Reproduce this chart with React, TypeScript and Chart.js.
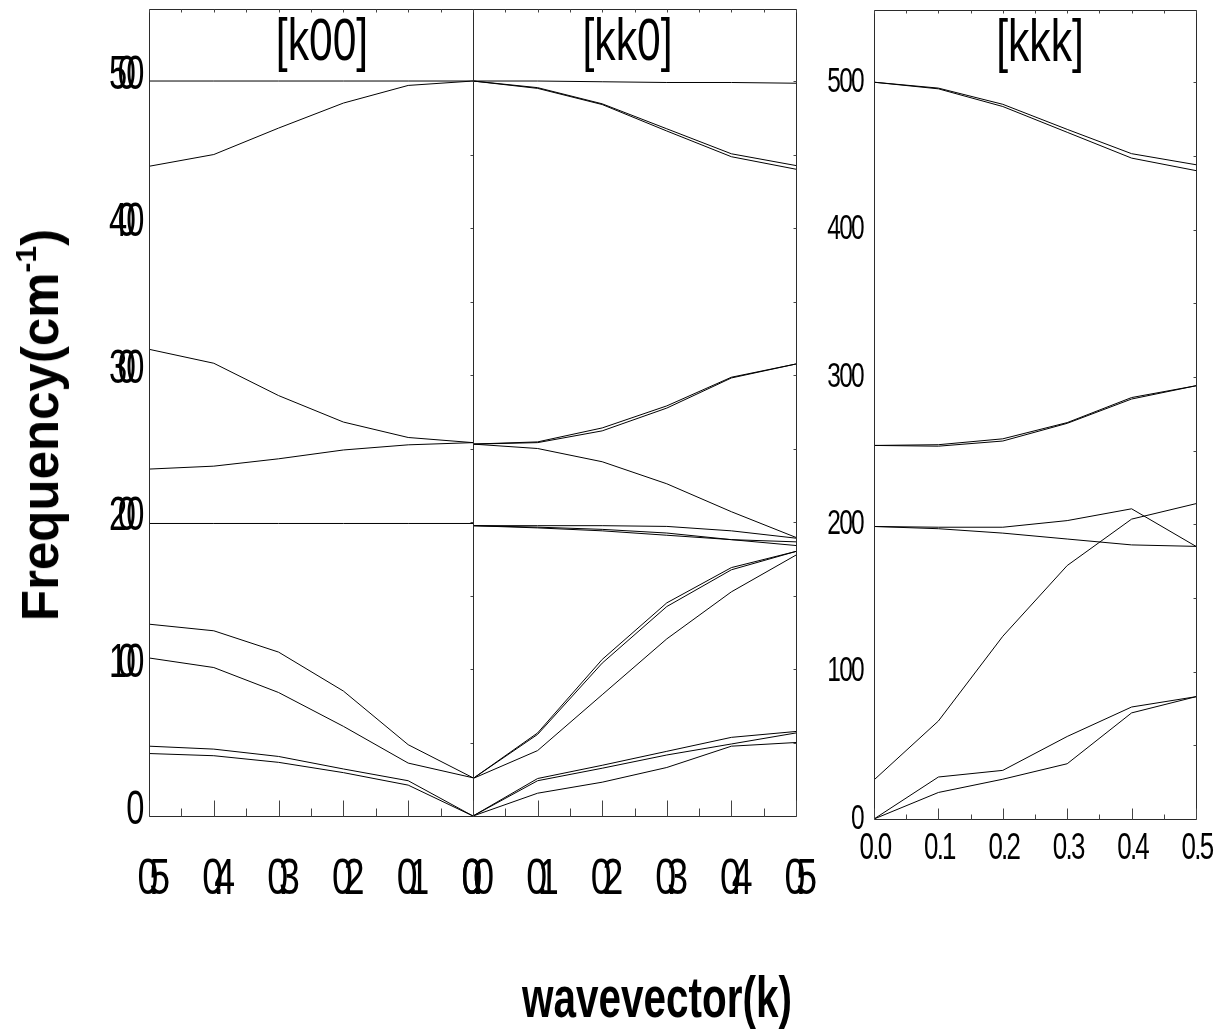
import React, { useEffect, useRef } from 'react';
import { Chart, registerables } from 'chart.js';

Chart.register(...registerables);

// ---- wavevector grid and axis ticks ----
const K = [0, 0.1, 0.2, 0.3, 0.4, 0.5];
const K_MAJOR = [0, 0.1, 0.2, 0.3, 0.4, 0.5];
const K_MINOR = [0.05, 0.15, 0.25, 0.35, 0.45];
const FREQ_MAJOR = [0, 100, 200, 300, 400, 500];
const FREQ_SIDE = [50, 100, 150, 200, 250, 300, 350, 400, 450, 500];

// ---- [k00] branches (values at k = 0 ... 0.5) ----
const k00_1 = [500, 500, 500, 500, 500, 500];
const k00_2 = [500, 497, 485, 468, 450, 442];
const k00_3 = [254, 257.5, 268, 286, 308, 317.5];
const k00_4 = [254, 252.5, 249, 243, 238, 236];
const k00_5 = [199, 199, 199, 199, 199, 199];
const k00_6 = [26, 48.5, 85, 111.5, 126, 130.5];
const k00_7 = [26, 36, 61, 84, 101, 107.5];
const k00_8 = [0, 24, 32, 40.5, 45.5, 47.5];
const k00_9 = [0, 21, 29.5, 36.5, 41, 42.5];

// ---- [kk0] branches ----
const kk0_1 = [500, 500, 499.5, 499, 499, 498.5];
const kk0_2 = [500, 495.5, 484.5, 467.5, 450.5, 442.5];
const kk0_3 = [500, 495, 484, 466, 448.5, 440];
const kk0_4 = [253, 254.5, 264, 279, 298.5, 307.5];
const kk0_5 = [253, 254, 262, 277.5, 298, 307.5];
const kk0_6 = [253, 250, 241, 226, 207, 189.5];
const kk0_7 = [197.5, 197.5, 197.5, 197, 194, 189];
const kk0_8 = [197.5, 196.5, 195, 192.5, 188, 186.5];
const kk0_9 = [197.5, 196, 194, 191, 188, 184];
const kk0_10 = [25.5, 56.5, 106.5, 145, 169, 180];
const kk0_11 = [25.5, 55.5, 104, 142.5, 167.5, 180];
const kk0_12 = [25.5, 44.5, 82.5, 120.5, 152.5, 177.5];
const kk0_13 = [0, 25.5, 34.5, 44, 53.5, 57.5];
const kk0_14 = [0, 24, 32.5, 41.5, 49, 56.5];
const kk0_15 = [0, 15.5, 23, 33, 47.5, 50];

// ---- [kkk] branches ----
const kkk_1 = [500, 496, 485, 468, 451.5, 444];
const kkk_2 = [500, 495.5, 483.5, 466, 448.5, 440];
const kkk_3 = [253.5, 254, 258, 269, 286, 294];
const kkk_4 = [253.5, 253, 256.5, 268.5, 285, 294];
const kkk_5 = [198.5, 198, 198, 202.5, 210.5, 185];
const kkk_6 = [198.5, 197, 194, 190, 186, 185];
const kkk_7 = [26.5, 66.5, 124, 172, 203.5, 214];
const kkk_8 = [0, 28.5, 33, 56, 76, 83];
const kkk_9 = [0, 18, 27, 37.5, 72, 83];

const K00_MODES = [k00_1, k00_2, k00_3, k00_4, k00_5, k00_6, k00_7, k00_8, k00_9];
const KK0_MODES = [kk0_1, kk0_2, kk0_3, kk0_4, kk0_5, kk0_6, kk0_7, kk0_8, kk0_9, kk0_10, kk0_11, kk0_12, kk0_13, kk0_14, kk0_15];
const KKK_MODES = [kkk_1, kkk_2, kkk_3, kkk_4, kkk_5, kkk_6, kkk_7, kkk_8, kkk_9];

const FONT = "'Liberation Sans', Arial, sans-serif";
const TITLE_SIZE = 60;

type TextSpec = Record<number, { sx: number; ls: string }>;

type Panel = {
  title: string;
  modes: number[][];
  reverse: boolean;
  showY: boolean;
  canvas: { left: number; top: number; w: number; h: number };
  area: { left: number; right: number; top: number; bottom: number };
  xFont: number;
  yFont: number;
  xPad: number;
  yPad: number;
  xOff: number;
  yOff: number;
  text: TextSpec;
  majorLen: number;
  minorLen: number;
  titleDx: number;
};

const SPEC_KX: TextSpec = {
  50: { sx: 0.75, ls: '-13px' },
  48: { sx: 0.68, ls: '-14px' },
  [TITLE_SIZE]: { sx: 0.71, ls: '0px' },
};
const SPEC_KKK: TextSpec = {
  37: { sx: 0.7, ls: '-2.5px' },
  35: { sx: 0.7, ls: '-2.5px' },
  [TITLE_SIZE]: { sx: 0.71, ls: '0px' },
};

const PANELS: Panel[] = [
  {
    title: '[k00]', modes: K00_MODES, reverse: true, showY: true,
    canvas: { left: 0, top: 0, w: 480, h: 920 },
    area: { left: 149, right: 473, top: 9, bottom: 816 },
    xFont: 50, yFont: 48, xPad: 26, yPad: 6, xOff: 0, yOff: -5, text: SPEC_KX,
    majorLen: 16, minorLen: 8, titleDx: 11,
  },
  {
    title: '[kk0]', modes: KK0_MODES, reverse: false, showY: false,
    canvas: { left: 440, top: 0, w: 420, h: 920 },
    area: { left: 473, right: 796, top: 9, bottom: 816 },
    xFont: 50, yFont: 48, xPad: 26, yPad: 6, xOff: 0, yOff: -5, text: SPEC_KX,
    majorLen: 16, minorLen: 8, titleDx: -7,
  },
  {
    title: '[kkk]', modes: KKK_MODES, reverse: false, showY: true,
    canvas: { left: 800, top: 0, w: 425, h: 900 },
    area: { left: 874, right: 1196, top: 10, bottom: 819 },
    xFont: 37, yFont: 35, xPad: 0, yPad: 3, xOff: 1, yOff: 0, text: SPEC_KKK,
    majorLen: 11, minorLen: 5, titleDx: 5,
  },
];

// Condensed text: fillText on a chart's context is squeezed horizontally about its anchor,
// with the squeeze / letter spacing chosen by the font size in use.
function condense(ctx: any) {
  if (ctx.__condensed) return;
  const orig = ctx.fillText;
  ctx.fillText = function (text: string, x: number, y: number, maxWidth?: number) {
    const m = /(\d+(?:\.\d+)?)px/.exec(this.font);
    const size = m ? Math.round(parseFloat(m[1])) : 0;
    const spec = this.__spec ? this.__spec[size] : undefined;
    const sx = spec ? spec.sx : 1;
    this.save();
    if (spec) this.letterSpacing = spec.ls;
    this.translate(x, y);
    this.scale(sx, 1);
    if (maxWidth === undefined || maxWidth === null) orig.call(this, text, 0, 0);
    else orig.call(this, text, 0, 0, maxWidth / sx);
    this.restore();
  };
  ctx.__condensed = true;
}

const deco = {
  id: 'deco',
  beforeDraw(chart: any, _args: any, o: any) {
    const ctx = chart.ctx as any;
    condense(ctx);
    ctx.__spec = o.text;
  },
  afterDraw(chart: any, _args: any, o: any) {
    const { ctx, chartArea: a } = chart;
    const xs = chart.scales.x;
    const ys = chart.scales.y;
    ctx.save();
    const L = Math.round(a.left) + 0.5;
    const R = Math.round(a.right) + 0.5;
    const T = Math.round(a.top) + 0.5;
    const B = Math.round(a.bottom) + 0.5;
    ctx.strokeStyle = '#2b2b2b';
    ctx.lineWidth = 1;
    ctx.beginPath();
    ctx.rect(L, T, R - L, B - T);
    ctx.stroke();
    ctx.beginPath();
    ctx.strokeStyle = '#444';
    K_MAJOR.forEach((v) => {
      const px = Math.round(xs.getPixelForValue(v)) + 0.5;
      ctx.moveTo(px, B);
      ctx.lineTo(px, B - o.majorLen);
      ctx.moveTo(px, T);
      ctx.lineTo(px, T + 3);
    });
    K_MINOR.forEach((v) => {
      const px = Math.round(xs.getPixelForValue(v)) + 0.5;
      ctx.moveTo(px, B);
      ctx.lineTo(px, B - o.minorLen);
      ctx.moveTo(px, T);
      ctx.lineTo(px, T + 3);
    });
    FREQ_SIDE.forEach((v) => {
      const py = Math.round(ys.getPixelForValue(v)) + 0.5;
      ctx.moveTo(R, py);
      ctx.lineTo(R - 3, py);
    });
    ctx.stroke();
    ctx.fillStyle = '#000';
    ctx.font = `${TITLE_SIZE}px ${FONT}`;
    ctx.textAlign = 'center';
    ctx.textBaseline = 'alphabetic';
    ctx.fillText(o.title, (a.left + a.right) / 2 + o.titleDx, a.top + 51);
    ctx.restore();
  },
};

function makeChart(canvas: HTMLCanvasElement, p: Panel) {
  const yAxisWidth = p.area.left - p.canvas.left;
  const padRight = p.canvas.left + p.canvas.w - p.area.right;
  const xAxisHeight = p.canvas.top + p.canvas.h - p.area.bottom;
  return new Chart(canvas, {
    type: 'line',
    data: {
      datasets: p.modes.map((m) => ({
        data: K.map((k, i) => ({ x: k, y: m[i] })),
        borderColor: '#000',
        borderWidth: 1,
        pointRadius: 0,
        tension: 0,
        fill: false,
      })),
    },
    options: {
      responsive: false,
      animation: false,
      events: [],
      layout: { padding: { left: 0, right: padRight, top: p.area.top - p.canvas.top, bottom: 0 } },
      plugins: {
        legend: { display: false },
        tooltip: { enabled: false },
        deco: { title: p.title, text: p.text, majorLen: p.majorLen, minorLen: p.minorLen, titleDx: p.titleDx },
      } as any,
      scales: {
        x: {
          type: 'linear',
          min: 0,
          max: 0.5,
          reverse: p.reverse,
          grid: { display: false },
          border: { display: false },
          ticks: {
            padding: p.xPad,
            labelOffset: p.xOff,
            color: '#000',
            maxRotation: 0,
            autoSkip: false,
            font: { family: FONT, size: p.xFont },
            callback: (v: any) => Number(v).toFixed(1),
          },
          afterBuildTicks: (s: any) => {
            s.ticks = K_MAJOR.map((v) => ({ value: v }));
          },
          afterFit: (s: any) => {
            s.height = xAxisHeight;
            s.paddingLeft = 0;
            s.paddingRight = 0;
          },
        },
        y: {
          type: 'linear',
          min: 0,
          max: 549,
          grid: { display: false },
          border: { display: false },
          ticks: {
            display: p.showY,
            padding: p.yPad,
            labelOffset: p.yOff,
            color: '#000',
            font: { family: FONT, size: p.yFont },
          },
          afterBuildTicks: (s: any) => {
            s.ticks = FREQ_MAJOR.map((v) => ({ value: v }));
          },
          afterFit: (s: any) => {
            s.width = yAxisWidth;
            s.paddingTop = 0;
            s.paddingBottom = 0;
          },
        },
      } as any,
    },
    plugins: [deco as any],
  });
}

export default function App() {
  const r0 = useRef<HTMLCanvasElement>(null);
  const r1 = useRef<HTMLCanvasElement>(null);
  const r2 = useRef<HTMLCanvasElement>(null);

  useEffect(() => {
    const refs = [r0, r1, r2];
    const charts = PANELS.map((p, i) => makeChart(refs[i].current as HTMLCanvasElement, p));
    return () => charts.forEach((c) => c.destroy());
  }, []);

  const refs = [r0, r1, r2];
  return (
    <div style={{ position: 'absolute', left: 0, top: 0, width: 1225, height: 1036, background: '#fff', overflow: 'hidden' }}>
      {PANELS.map((p, i) => (
        <canvas
          key={p.title}
          ref={refs[i]}
          width={p.canvas.w}
          height={p.canvas.h}
          style={{ position: 'absolute', left: p.canvas.left, top: p.canvas.top, width: p.canvas.w, height: p.canvas.h }}
        />
      ))}
      <div
        style={{
          position: 'absolute', left: 44, top: 425, transform: 'translate(-50%, -50%) rotate(-90deg)',
          fontFamily: FONT, fontWeight: 'bold', fontSize: 51, lineHeight: '51px',
          whiteSpace: 'nowrap', color: '#000',
        }}
      >
        Frequency(cm<span style={{ fontSize: 30, position: 'relative', top: -22 }}>-1</span>)
      </div>
      <div
        style={{
          position: 'absolute', left: 657, top: 969, transform: 'translateX(-50%) scaleX(0.71)',
          fontFamily: FONT, fontWeight: 'bold', fontSize: 57, lineHeight: '57px',
          whiteSpace: 'nowrap', color: '#000',
        }}
      >
        wavevector(k)
      </div>
    </div>
  );
}
